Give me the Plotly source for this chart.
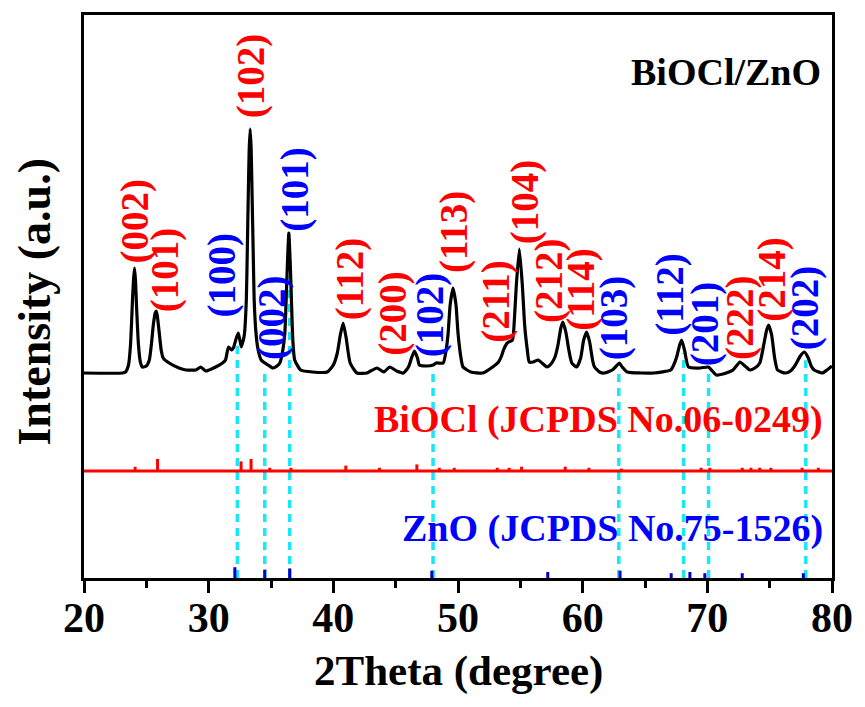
import numpy as np
import plotly.graph_objects as go

# ---------------- data ----------------
# XRD pattern of BiOCl/ZnO : 2theta (degree) and intensity above baseline (a.u.)
two_theta = [20.00, 23.10, 23.33, 23.57, 23.73, 23.89, 23.97, 24.05, 24.13, 24.21, 24.37, 24.52, 24.68,
             25.00, 25.24, 25.40, 25.56, 25.71, 25.79, 25.87, 26.03, 26.19, 26.35, 26.83, 27.62, 28.17,
             28.97, 29.37, 29.76, 30.56, 31.11, 31.35, 31.59, 31.83, 31.98, 32.22, 32.38, 32.62, 32.78,
             32.86, 33.02, 33.10, 33.17, 33.25, 33.33, 33.41, 33.49, 33.57, 33.65, 33.81, 33.97, 34.21,
             34.76, 35.16, 35.48, 35.71, 35.95, 36.11, 36.27, 36.35, 36.43, 36.51, 36.59, 36.75, 36.90,
             37.38, 38.33, 39.52, 40.00, 40.32, 40.56, 40.79, 41.03, 41.35, 41.90, 42.70, 43.49, 44.05,
             44.52, 45.08, 45.63, 46.03, 46.27, 46.51, 46.75, 46.90, 47.46, 48.02, 48.25, 48.81, 49.05,
             49.21, 49.37, 49.60, 49.84, 50.00, 50.24, 50.40, 51.03, 51.98, 52.78, 53.25, 53.49, 53.65,
             53.89, 54.05, 54.37, 54.52, 54.68, 54.92, 55.16, 55.32, 55.40, 55.56, 55.71, 56.03, 56.43,
             56.83, 57.14, 57.46, 57.78, 58.02, 58.25, 58.41, 58.65, 58.89, 59.13, 59.52, 59.84, 60.08,
             60.32, 60.56, 60.79, 60.95, 61.35, 61.75, 62.38, 62.70, 62.94, 63.17, 63.57, 64.68, 65.71,
             67.06, 67.30, 67.54, 67.78, 67.94, 68.17, 68.49, 69.44, 70.08, 70.40, 70.71, 71.51, 72.06,
             72.62, 73.02, 73.41, 73.81, 74.21, 74.52, 74.76, 74.92, 75.16, 75.40, 75.63, 76.27, 76.67,
             77.06, 77.46, 77.78, 78.10, 78.33, 78.57, 79.21, 79.60, 80.00]
intensity = [0, 0, 1, 8, 28, 73, 93, 105, 93, 68, 28, 11, 6,
             7, 13, 28, 48, 60, 62, 58, 41, 23, 15, 10, 5, 3,
             3, 6, 2, 6, 10, 13, 26, 23, 25, 35, 40, 26, 33,
             38, 73, 123, 173, 223, 244, 223, 173, 123, 73, 38, 23, 13,
             8, 5, 7, 10, 23, 40, 93, 120, 140, 120, 93, 33, 13,
             3, 1, 1, 8, 20, 38, 50, 35, 10, 0, 0, 5, 1,
             6, 2, 0, 6, 15, 22, 15, 8, 7, 8, 10, 10, 23,
             40, 68, 85, 68, 40, 15, 6, 1, 0, 6, 11, 17, 23,
             29, 31, 33, 53, 88, 124, 88, 53, 40, 23, 11, 11, 13,
             9, 6, 9, 16, 28, 45, 51, 41, 23, 10, 6, 15, 33,
             41, 31, 13, 6, 1, 0, 3, 7, 10, 6, 1, 0, 0,
             3, 8, 16, 28, 33, 23, 6, 5, 6, 2, -2, 0, 3,
             11, 7, 3, 5, 10, 28, 43, 48, 38, 15, 3, 0, 2,
             8, 17, 21, 15, 7, 3, 0, 3, 7]

# BiOCl reference pattern (JCPDS No.06-0249): positions and relative intensities
biocl_pos = [24.1, 25.9, 32.6, 33.4, 34.9, 36.6, 41.0, 43.7, 46.7, 48.5, 49.7, 53.15, 54.1,
             55.1, 58.6, 60.5, 63.1, 69.5, 70.2, 72.8, 73.5, 74.2, 75.1, 77.6, 78.9]
biocl_int = [35, 100, 80, 100, 27, 27, 45, 27, 55, 27, 27, 27, 27,
             36, 36, 27, 20, 27, 27, 27, 27, 27, 27, 27, 27]

# ZnO reference pattern (JCPDS No.75-1526)
zno_pos = [32.1, 34.5, 36.5, 47.9, 57.2, 63.0, 67.1, 68.6, 69.8, 72.8, 77.7]
zno_int = [90, 70, 80, 60, 50, 60, 40, 50, 40, 40, 40]

# ZnO peaks marked by dashed guide lines
zno_marked = [32.3, 34.5, 36.5, 48.0, 62.9, 68.1, 70.1, 77.9]

# hkl labels: (text, phase)
hkl_labels = [("(002)", "BiOCl"), ("(101)", "BiOCl"), ("(100)", "ZnO"), ("(102)", "BiOCl"),
              ("(002)", "ZnO"), ("(101)", "ZnO"), ("(112)", "BiOCl"), ("(200)", "BiOCl"),
              ("(102)", "ZnO"), ("(113)", "BiOCl"), ("(211)", "BiOCl"), ("(104)", "BiOCl"),
              ("(212)", "BiOCl"), ("(114)", "BiOCl"), ("(103)", "ZnO"), ("(112)", "ZnO"),
              ("(201)", "ZnO"), ("(222)", "BiOCl"), ("(214)", "BiOCl"), ("(202)", "ZnO")]

# ---------------- layout / styling ----------------
# label placement (x in degree, y in plot units)
label_xy = [(24.13, 357), (26.51, 308), (31.03, 302), (33.41, 502), (35.08, 260), (36.90, 388),
            (41.35, 299), (44.76, 264), (47.78, 263), (49.68, 346), (53.02, 276), (55.40, 376),
            (57.30, 297), (59.84, 288), (62.54, 260), (66.98, 283), (69.84, 254), (72.62, 260),
            (75.16, 298), (77.86, 270)]

XRD_OFFSET = 205     # vertical offset of the measured pattern
BIOCL_OFFSET = 107   # vertical offset of the BiOCl reference line
ZNO_OFFSET = 0
STICK_SCALE = 0.12
Y_MAX = 563

RED = "#FF0000"
BLUE = "#0000FF"
STICK_BLUE = "#0000CC"
CYAN = "#19E6F7"
FONT = "Liberation Serif"
phase_color = {"BiOCl": RED, "ZnO": BLUE}

fig = go.Figure()

# cyan dashed guide lines (from bottom up to the pattern)
tt = np.array(two_theta)
ii = np.array(intensity, dtype=float)
gx, gy = [], []
for p in zno_marked:
    top = XRD_OFFSET + np.interp(p, tt, ii) - 6
    gx += [p, p, None]
    gy += [ZNO_OFFSET, top, None]
fig.add_trace(go.Scatter(x=gx, y=gy, mode="lines",
                         line=dict(color=CYAN, width=3.5, dash="8px,6px"),
                         hoverinfo="skip", showlegend=False))

# BiOCl reference line + sticks
fig.add_trace(go.Scatter(x=[20, 80], y=[BIOCL_OFFSET, BIOCL_OFFSET], mode="lines",
                         line=dict(color=RED, width=3), showlegend=False))
sx, sy = [], []
for p, v in zip(biocl_pos, biocl_int):
    sx += [p, p, None]
    sy += [BIOCL_OFFSET, BIOCL_OFFSET + v * STICK_SCALE, None]
fig.add_trace(go.Scatter(x=sx, y=sy, mode="lines", line=dict(color=RED, width=3),
                         showlegend=False))

# ZnO reference sticks
zx, zy = [], []
for p, v in zip(zno_pos, zno_int):
    zx += [p, p, None]
    zy += [ZNO_OFFSET, ZNO_OFFSET + v * STICK_SCALE, None]
fig.add_trace(go.Scatter(x=zx, y=zy, mode="lines", line=dict(color=STICK_BLUE, width=3),
                         showlegend=False))

# measured pattern
fig.add_trace(go.Scatter(x=two_theta, y=[v + XRD_OFFSET for v in intensity], mode="lines",
                         line=dict(color="black", width=3.2, shape="spline", smoothing=0.5),
                         showlegend=False))

ann = []
for (txt, phase), (lx, ly) in zip(hkl_labels, label_xy):
    ann.append(dict(x=lx, y=ly, xref="x", yref="y", text=txt, textangle=-90, showarrow=False,
                    xanchor="center", yanchor="middle",
                    font=dict(family=FONT, size=39, color=phase_color[phase], weight="bold")))

ann.append(dict(x=79.44, y=159, xref="x", yref="y", text="BiOCl (JCPDS No.06-0249)",
                showarrow=False, xanchor="right", yanchor="middle",
                font=dict(family=FONT, size=38, color=RED, weight="bold")))
ann.append(dict(x=79.40, y=50, xref="x", yref="y", text="ZnO (JCPDS No.75-1526)",
                showarrow=False, xanchor="right", yanchor="middle",
                font=dict(family=FONT, size=38, color=BLUE, weight="bold")))
ann.append(dict(x=0.858, y=0.899, xref="paper", yref="paper", text="BiOCl/ZnO",
                showarrow=False, xanchor="center", yanchor="middle",
                font=dict(family=FONT, size=38, color="black", weight="bold")))
ann.append(dict(x=0.5, y=(578 - 671) / 563, xref="paper", yref="paper", text="2Theta (degree)",
                showarrow=False, xanchor="center", yanchor="middle",
                font=dict(family=FONT, size=43, color="black", weight="bold")))
ann.append(dict(x=(33 - 84) / 756, y=(578 - 302) / 563, xref="paper", yref="paper",
                text="Intensity (a.u.)", textangle=-90,
                showarrow=False, xanchor="center", yanchor="middle",
                font=dict(family=FONT, size=46, color="black", weight="bold")))

fig.update_layout(
    width=865, height=707,
    margin=dict(l=84, r=25, t=15, b=129),
    plot_bgcolor="white", paper_bgcolor="white",
    annotations=ann,
    xaxis=dict(range=[20, 80], dtick=10, tick0=20, ticks="outside", ticklen=12, tickwidth=3,
               tickcolor="black", showline=True, linewidth=3, linecolor="black", mirror=True,
               showgrid=False, zeroline=False, ticklabelstandoff=-11,
               minor=dict(ticks="outside", ticklen=7, tickwidth=3, dtick=5, tickcolor="black",
                          showgrid=False),
               tickfont=dict(family=FONT, size=42, color="black", weight="bold")),
    yaxis=dict(range=[0, Y_MAX], showticklabels=False, ticks="", showline=True, linewidth=3,
               linecolor="black", mirror=True, showgrid=False, zeroline=False),
)

fig.write_html("out.html")
